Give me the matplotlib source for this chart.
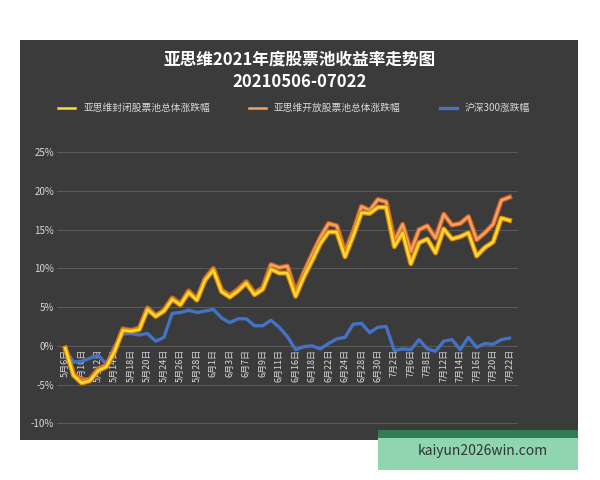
import numpy as np
import matplotlib.pyplot as plt
from matplotlib.patches import Rectangle

plt.rcParams['font.family'] = ['Noto Sans CJK SC', 'DejaVu Sans']

dates = ["5月6日", "5月7日", "5月10日", "5月11日", "5月12日", "5月13日", "5月14日", "5月17日",
         "5月18日", "5月19日", "5月20日", "5月21日", "5月24日", "5月25日", "5月26日", "5月27日",
         "5月28日", "5月31日", "6月1日", "6月2日", "6月3日", "6月4日", "6月7日", "6月8日",
         "6月9日", "6月10日", "6月11日", "6月15日", "6月16日", "6月17日", "6月18日", "6月21日",
         "6月22日", "6月23日", "6月24日", "6月25日", "6月28日", "6月29日", "6月30日", "7月1日",
         "7月2日", "7月5日", "7月6日", "7月7日", "7月8日", "7月9日", "7月12日", "7月13日",
         "7月14日", "7月15日", "7月16日", "7月19日", "7月20日", "7月21日", "7月22日"]

closed = [-0.3, -3.8, -4.8, -4.5, -3.2, -2.7, -0.7, 2.0, 1.9, 2.1, 4.7, 3.8, 4.5, 6.0, 5.3,
          6.9, 5.9, 8.5, 9.8, 7.0, 6.3, 7.1, 8.1, 6.6, 7.3, 9.9, 9.4, 9.4, 6.4, 8.9, 11.0,
          13.2, 14.7, 14.7, 11.5, 14.2, 17.2, 17.1, 17.9, 17.9, 12.8, 14.6, 10.6, 13.3, 13.8,
          12.0, 15.1, 13.8, 14.1, 14.6, 11.6, 12.7, 13.4, 16.5, 16.2]
opened = [-0.3, -3.6, -4.5, -4.3, -3.0, -2.5, -0.5, 2.2, 2.0, 2.3, 4.9, 3.9, 4.6, 6.2, 5.4,
          7.1, 6.0, 8.7, 10.0, 7.2, 6.5, 7.3, 8.3, 6.8, 7.5, 10.5, 10.1, 10.3, 6.9, 9.5, 11.8,
          14.0, 15.8, 15.5, 12.1, 14.8, 18.0, 17.5, 18.9, 18.6, 13.5, 15.7, 12.2, 15.0, 15.5,
          13.9, 17.0, 15.6, 15.8, 16.7, 13.7, 14.6, 15.7, 18.8, 19.2]
hs300 = [-0.4, -2.1, -2.0, -1.6, -1.2, -2.4, 0.0, 1.5, 1.6, 1.4, 1.6, 0.6, 1.1, 4.2, 4.3,
         4.6, 4.3, 4.5, 4.7, 3.6, 3.0, 3.5, 3.5, 2.6, 2.6, 3.3, 2.4, 1.2, -0.5, -0.1, 0.0,
         -0.4, 0.3, 0.9, 1.1, 2.8, 2.9, 1.7, 2.4, 2.5, -0.6, -0.4, -0.5, 0.8, -0.4, -0.7,
         0.6, 0.8, -0.5, 1.1, -0.2, 0.3, 0.2, 0.8, 1.0]
yticks = [-10, -5, 0, 5, 10, 15, 20, 25]

fig = plt.figure(figsize=(6, 4.8), dpi=100)
fig.patch.set_facecolor('white')
# dark panel
fig.add_artist(Rectangle((20/600, 40/480), 558/600, 400/480, transform=fig.transFigure,
                         facecolor='#3b3b3b', edgecolor='none', zorder=0))

ax = fig.add_axes([0.095, 0.094, 0.768, 0.621])
ax.set_facecolor('none')
x = np.arange(len(dates))

ax.plot(x, hs300, color='#4472c4', lw=2.4, zorder=2, label='沪深300涨跌幅')
ax.plot(x, opened, color='#c8602a', lw=3.6, zorder=3)
ax.plot(x, opened, color='#f4a261', lw=1.8, zorder=3, label='亚思维开放股票池总体涨跌幅')
ax.plot(x, closed, color='#d98a00', lw=3.6, zorder=4)
ax.plot(x, closed, color='#ffd83a', lw=1.8, zorder=4, label='亚思维封闭股票池总体涨跌幅')

ax.set_xlim(-1, 55)
ax.set_ylim(-11.5, 27)
ax.set_yticks(yticks)
ax.set_yticklabels([f"{v}%" for v in yticks], color='#d9d9d9', fontsize=7)
ax.set_xticks(x[::2])
ax.set_xticklabels(dates[::2], rotation=90, color='#d9d9d9', fontsize=6.5)
ax.tick_params(length=0, pad=2)
# x labels sit just below the 0% line
ax.tick_params(axis='x', pad=-62)
ax.grid(axis='y', color='#5a5a5a', lw=0.8)
for s in ax.spines.values():
    s.set_visible(False)

handles, labels = ax.get_legend_handles_labels()
order = [2, 1, 0]
fig.legend([handles[i] for i in order], [labels[i] for i in order], loc='center',
           bbox_to_anchor=(0.49, 1 - 108/480), ncol=3, frameon=False, fontsize=7,
           labelcolor='#d9d9d9', handlelength=1.8, columnspacing=4)

fig.text(0.5, 1 - 60/480, '亚思维2021年度股票池收益率走势图', ha='center', va='center',
         color='white', fontsize=12, fontweight='bold')
fig.text(0.5, 1 - 82/480, '20210506-07022', ha='center', va='center',
         color='white', fontsize=12, fontweight='bold')

fig.add_artist(Rectangle((378/600, 10/480), 200/600, 40/480, transform=fig.transFigure,
                         facecolor='#8fd6b0', edgecolor='none', zorder=5))
fig.add_artist(Rectangle((378/600, 42/480), 200/600, 8/480, transform=fig.transFigure,
                         facecolor='#2e7d55', edgecolor='none', zorder=5))
fig.text(483/600, 1 - 451/480, 'kaiyun2026win.com', ha='center', va='center',
         color='#333333', fontsize=10, zorder=6)

fig.savefig('out.png', dpi=100)
